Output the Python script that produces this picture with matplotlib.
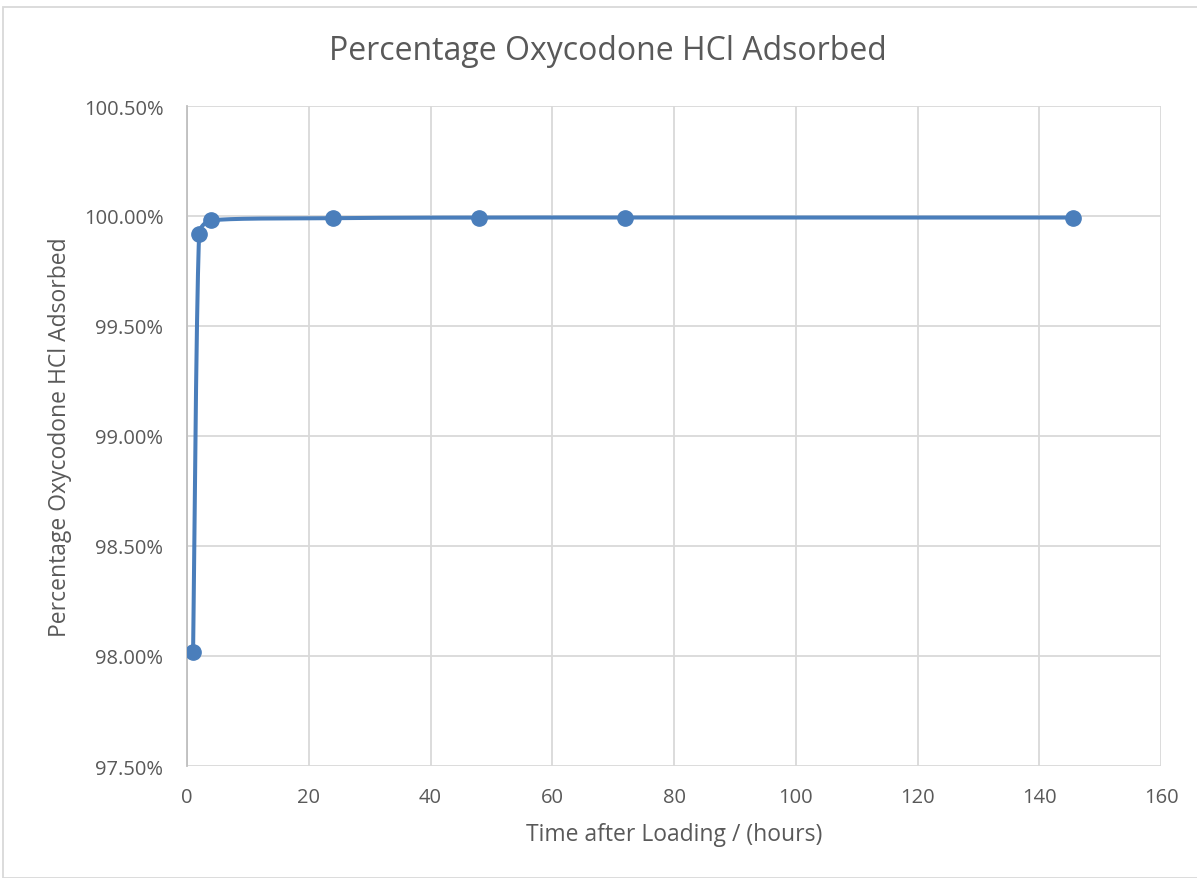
import numpy as np
import matplotlib
matplotlib.use("Agg")
import matplotlib.pyplot as plt
from matplotlib.ticker import PercentFormatter, MultipleLocator
from matplotlib.patches import Rectangle

hours = [1, 2, 4, 24, 48, 72, 145.5]
adsorbed = [0.9802, 0.9992, 0.9998, 0.9999, 0.99993, 0.99993, 0.99993]

title = "Percentage Oxycodone HCl Adsorbed"
xlabel = "Time after Loading / (hours)"
ylabel = "Percentage Oxycodone HCl Adsorbed"

plt.rcParams['font.family'] = ['Open Sans', 'DejaVu Sans']
txt = '#595959'
line_c = '#4a7ebb'

fig = plt.figure(figsize=(11.97, 8.79), dpi=100)
ax = fig.add_axes([187/1197, 1-767/879, (1161-187)/1197, (767-107)/879])
ax.set_xlim(0, 160)
ax.set_ylim(0.975, 1.005)
ax.xaxis.set_major_locator(MultipleLocator(20))
ax.yaxis.set_major_locator(MultipleLocator(0.005))
ax.yaxis.set_major_formatter(PercentFormatter(xmax=1, decimals=2))
ax.grid(True, color='#d9d9d9', linewidth=1.3)
ax.set_axisbelow(True)
for s in ['top', 'right', 'bottom']:
    ax.spines[s].set_visible(False)
ax.spines['left'].set_color('#bfbfbf')
ax.spines['left'].set_linewidth(1.3)
ax.tick_params(length=0, labelsize=14.5, labelcolor=txt)
ax.tick_params(axis='y', pad=17)
ax.tick_params(axis='x', pad=15)

# Excel-style smoothed line (Bezier in display space with clamped arms)
fig.canvas.draw()
pts = ax.transData.transform(np.column_stack([hours, adsorbed]))
n = len(pts)
curve = []

def arm(v, limit):
    L = np.linalg.norm(v)
    if L > limit and L > 0:
        v = v * (limit / L)
    return v

for i in range(n - 1):
    p0 = pts[i - 1] if i > 0 else pts[i]
    p1 = pts[i]
    p2 = pts[i + 1]
    p3 = pts[i + 2] if i + 2 < n else pts[i + 1]
    seglen = np.linalg.norm(p2 - p1)
    c1 = p1 + arm((p2 - p0) / 6, seglen / 3)
    c2 = p2 - arm((p3 - p1) / 6, seglen / 3)
    t = np.linspace(0, 1, 80)[:, None]
    seg = ((1 - t) ** 3) * p1 + 3 * ((1 - t) ** 2) * t * c1 + 3 * (1 - t) * t ** 2 * c2 + t ** 3 * p2
    curve.append(seg)
curve = np.vstack(curve)
curve_data = ax.transData.inverted().transform(curve)
ax.plot(curve_data[:, 0], curve_data[:, 1], color=line_c, linewidth=2.9,
        solid_capstyle='round', solid_joinstyle='round', zorder=3)
ax.plot(hours, adsorbed, linestyle='none', marker='o', markersize=11, color=line_c, zorder=4)

fig.text(608/1197, 1-52/879, title, ha='center', va='center', fontsize=23, color=txt)
ax.set_xlabel(xlabel, fontsize=16.5, color=txt)
ax.set_ylabel(ylabel, fontsize=16.5, color=txt)
ax.xaxis.set_label_coords(0.5, (767-835)/660)
ax.yaxis.set_label_coords((60-187)/974, 0.5)
ax.xaxis.label.set_va('center')
ax.yaxis.label.set_va('center')

fig.patches.append(Rectangle((3/1197, 0), 1.0, 1 - 8/879, transform=fig.transFigure,
                             fill=False, edgecolor='#d9d9d9', linewidth=1.3))

fig.savefig('out.png', dpi=100)
